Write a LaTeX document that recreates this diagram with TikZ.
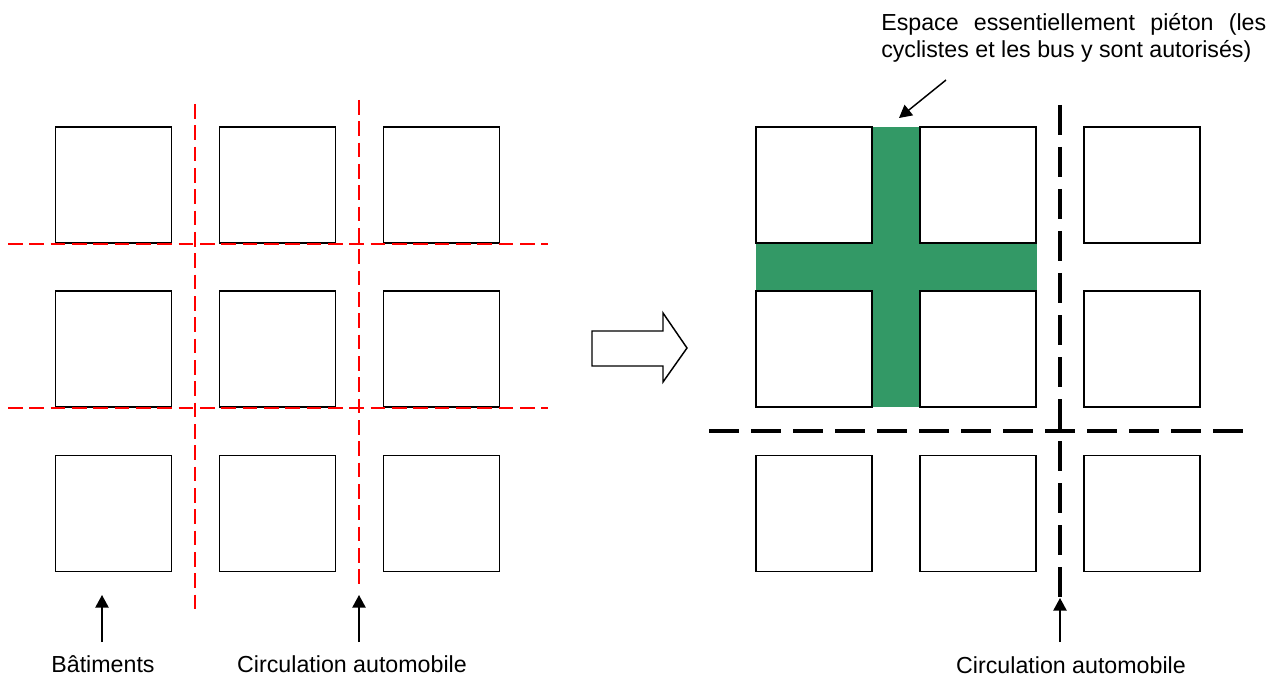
\documentclass[tikz,border=0pt]{standalone}
\usepackage{fontspec}
\setmainfont{Liberation Sans}
\usetikzlibrary{arrows.meta}
\definecolor{pgreen}{HTML}{339966}
\definecolor{pred}{HTML}{FF0000}
\tikzset{
  bldg/.style={draw=black, line width=1.1pt, minimum width=87pt, minimum height=87pt, inner sep=0pt, outer sep=0pt},
  redroad/.style={draw=pred, line width=1.1pt, dash pattern=on 11pt off 5pt},
  blackroad/.style={draw=black, line width=2.3pt, dash pattern=on 22.5pt off 9pt},
  pointer/.style={draw=black, line width=1.1pt, -{Triangle[length=9.5pt,width=10pt]}},
  lab/.style={font=\fontsize{17.4}{20.25}\selectfont, inner sep=0pt}
}
\begin{document}
\begin{tikzpicture}[x=0.75pt, y=-0.75pt]
\useasboundingbox (0,0) rectangle (1281,677);
% ---- left grid ----
\foreach \c/\x in {1/113.5, 2/277.5, 3/441.5}{
  \foreach \r/\y in {1/185, 2/349, 3/513.5}{
    \node[bldg] (L\r\c) at (\x,\y) {};
  }
}
\coordinate (rv1a) at (195,104); \coordinate (rv1b) at (195,612);
\coordinate (rv2a) at (359,100); \coordinate (rv2b) at (359,589);
\coordinate (rh1a) at (8,244);   \coordinate (rh1b) at (548,244);
\coordinate (rh2a) at (8,408);   \coordinate (rh2b) at (548,408);
\draw[redroad] (rv1a) -- (rv1b);
\draw[redroad] (rv2a) -- (rv2b);
\draw[redroad] (rh1a) -- (rh1b);
\draw[redroad] (rh2a) -- (rh2b);
% labels left
\node[lab] (bat) at (103,664) {Bâtiments};
\node[lab] (circL) at (352,664) {Circulation automobile};
\coordinate (a1t) at (102,642); \coordinate (a1h) at (102,595);
\coordinate (a2t) at (359,642); \coordinate (a2h) at (359,595);
\draw[pointer] (a1t) -- (a1h);
\draw[pointer] (a2t) -- (a2h);
% ---- block arrow ----
\draw[line width=1.1pt, fill=white] (592,331) -- (663,331) -- (663,313) -- (687,348) -- (663,382) -- (663,366) -- (592,366) -- cycle;
% ---- right grid ----
\fill[pgreen] (873,127) rectangle (919,407);
\fill[pgreen] (756,244) rectangle (1037,291);
\foreach \c/\x in {1/814, 2/978, 3/1142}{
  \foreach \r/\y in {1/185, 2/349, 3/513.5}{
    \node[bldg] (R\r\c) at (\x,\y) {};
  }
}
\coordinate (bh1) at (709,431); \coordinate (bh2) at (1248,431);
\coordinate (bv1) at (1060,105); \coordinate (bv2) at (1060,598);
\draw[blackroad] (bh1) -- (bh2);
\draw[blackroad] (bv1) -- (bv2);
\coordinate (a3t) at (1060,642);
\draw[pointer] (a3t) -- (bv2);
\node[lab] (circR) at (1071,665) {Circulation automobile};
% ---- top note ----
\node[lab, anchor=north west, text width=288.75pt, align=justify] (note) at (881,13)
  {Espace essentiellement piéton (les\linebreak cyclistes et les bus y sont autorisés)};
\coordinate (nt) at (946,80); \coordinate (nh) at (899,118);
\draw[pointer] (nt) -- (nh);
\end{tikzpicture}
\end{document}
